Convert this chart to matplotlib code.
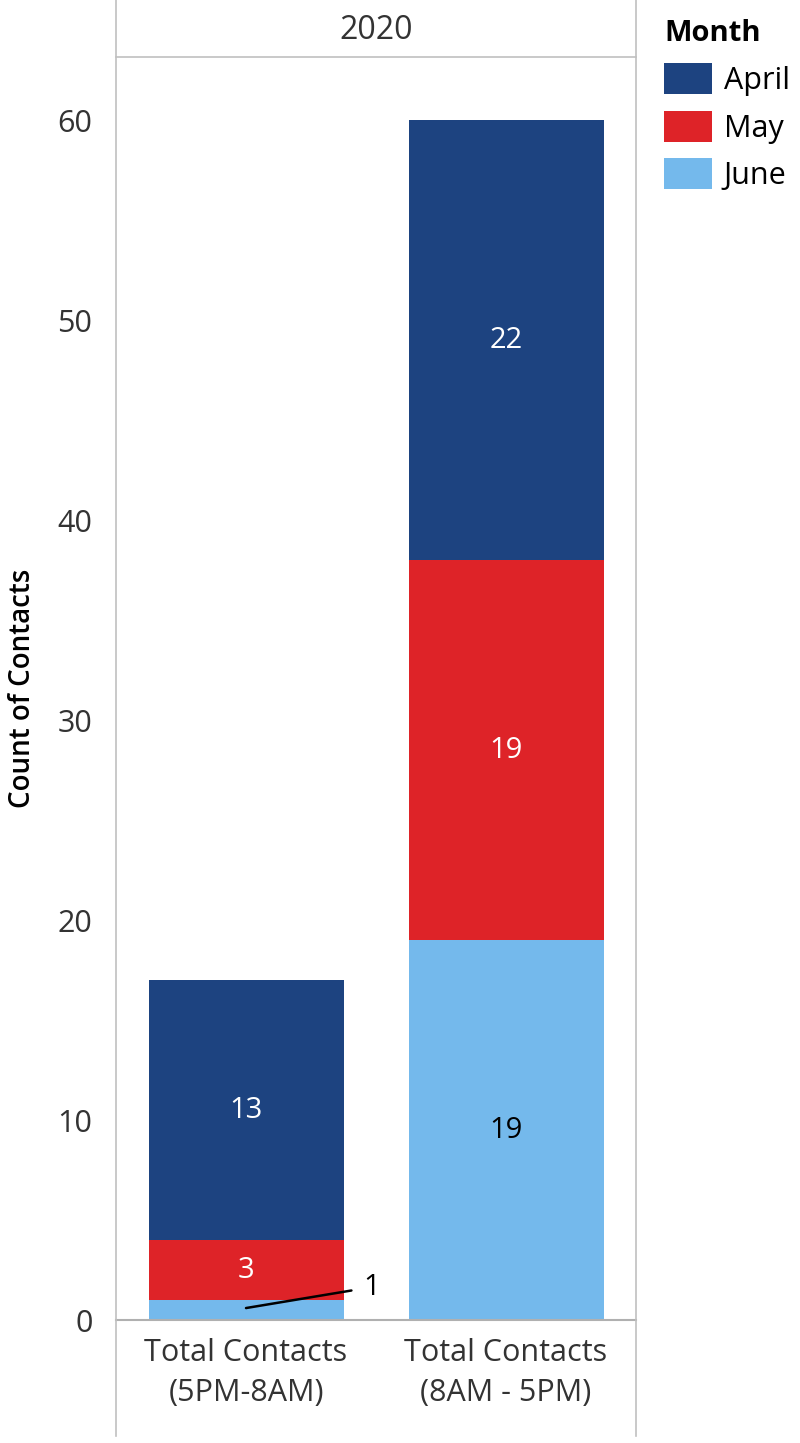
import matplotlib.pyplot as plt
from matplotlib.patches import Patch
from matplotlib.lines import Line2D

plt.rcParams['font.family'] = ['Open Sans', 'DejaVu Sans']

categories = ['Total Contacts\n(5PM-8AM)', 'Total Contacts\n(8AM - 5PM)']
months = ['April', 'May', 'June']
june = [1, 19]
may = [3, 19]
april = [13, 22]
colors = {'April': '#1d4380', 'May': '#de2328', 'June': '#74b9ec'}
label_colors = {'April': 'white', 'May': 'white', 'June': 'black'}

fig = plt.figure(figsize=(8, 14.43), dpi=100)
ax = fig.add_axes([0.145, 0.0852, 0.65, 0.8753])

x = list(range(len(categories)))
stack = [('June', june), ('May', may), ('April', april)]
bottom = [0] * len(categories)
for name, vals in stack:
    bars = ax.bar(x, vals, bottom=bottom, width=0.75, color=colors[name])
    for i, (b, v) in enumerate(zip(bars, vals)):
        if v >= 3:
            ax.text(b.get_x() + b.get_width() / 2, bottom[i] + v / 2, str(v),
                    ha='center', va='center', fontsize=21, color=label_colors[name])
        else:
            ax.annotate(str(v), xy=(b.get_x() + b.get_width() / 2, bottom[i] + v * 0.6),
                        xytext=(0.485, bottom[i] + v * 1.65), fontsize=21, color='black',
                        ha='center', va='center',
                        arrowprops=dict(arrowstyle='-', color='black', lw=1.8,
                                        shrinkA=7, shrinkB=0))
    bottom = [bo + v for bo, v in zip(bottom, vals)]

ax.set_xlim(-0.5, 1.5)
ax.set_ylim(0, 63.15)
ax.set_yticks([0, 10, 20, 30, 40, 50, 60])
ax.set_xticks(x)
ax.set_xticklabels(categories, fontsize=22, color='#333333', linespacing=1.45)
ax.tick_params(axis='y', labelsize=22, labelcolor='#333333', length=0, pad=17)
ax.tick_params(axis='x', length=0, pad=13)
ax.set_ylabel('Count of Contacts', fontsize=20, fontweight='semibold')
ax.yaxis.set_label_coords(-0.152, 0.5)
for s in ['top', 'right', 'left']:
    ax.spines[s].set_visible(False)
ax.spines['bottom'].set_color('#b0b0b0')
ax.spines['bottom'].set_linewidth(1.5)

# header panel and frame lines
line_kw = dict(color='#c0c0c0', lw=1.2, transform=fig.transFigure)
fig.add_artist(Line2D([0.145, 0.145], [0.005, 1.0], **line_kw))
fig.add_artist(Line2D([0.795, 0.795], [0.005, 1.0], **line_kw))
fig.add_artist(Line2D([0.145, 0.795], [0.9605, 0.9605], **line_kw))
fig.text(0.47, 0.979, '2020', ha='center', va='center', fontsize=23, color='#333333')

handles = [Patch(facecolor=colors[m], label=m) for m in months]
leg = fig.legend(handles=handles, title='Month', loc='upper left',
                 bbox_to_anchor=(0.815, 0.995), frameon=False, fontsize=22,
                 title_fontproperties={'weight': 'bold', 'size': 21},
                 handlelength=1.55, handleheight=1.19, labelspacing=0.48,
                 handletextpad=0.4, alignment='left', borderaxespad=0)

fig.savefig('out.png')
